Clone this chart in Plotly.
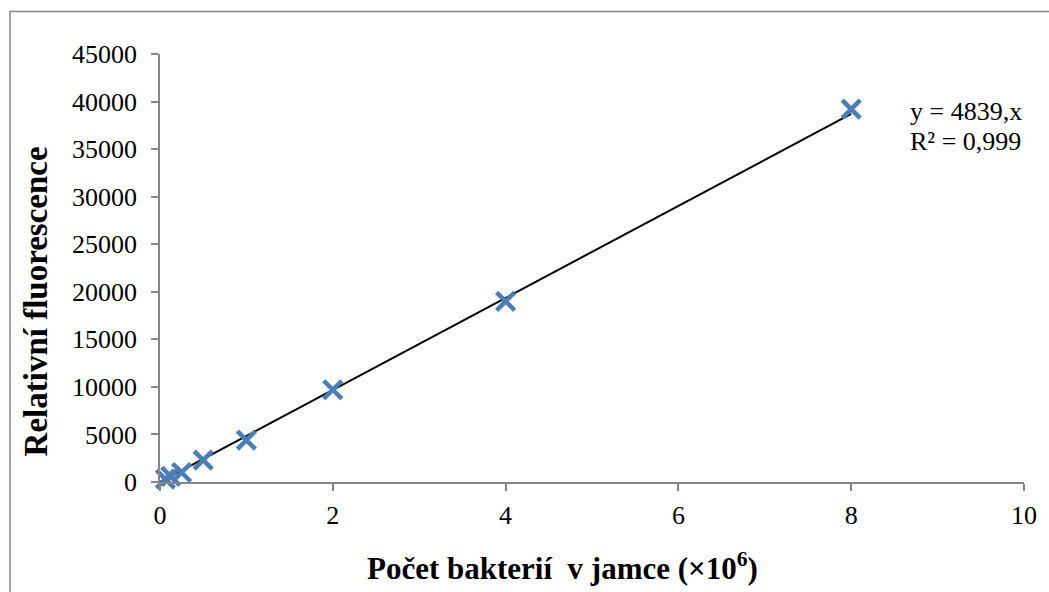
import plotly.graph_objects as go

# Data
bacteria_count = [0.0625, 0.125, 0.25, 0.5, 1, 2, 4, 8]          # x 10^6
fluorescence = [300, 600, 1000, 2300, 4400, 9700, 19000, 39200]   # relative units
trend_slope = 4839
trend_x = [0, 8]
trend_y = [trend_slope * v for v in trend_x]
x_ticks = [0, 2, 4, 6, 8, 10]
y_ticks = [0, 5000, 10000, 15000, 20000, 25000, 30000, 35000, 40000, 45000]
y_tick_labels = [str(v) for v in y_ticks]
eq_line1 = "y = 4839,x"
eq_line2 = "R² = 0,999"
x_title = "Počet bakterií  v jamce (×10<sup>6</sup>)"
y_title = "Relativní fluorescence"

W, H = 1049, 592
L, R, T, B = 160, 22, 54, 110
pw, ph = W - L - R, H - T - B

def px(xp):
    return (xp - L) / pw

def py(yp):
    return (H - B - yp) / ph

FONT = "Liberation Serif"
AX = "#868686"

fig = go.Figure()
fig.add_trace(go.Scatter(
    x=trend_x, y=trend_y, mode="lines",
    line=dict(color="black", width=2), showlegend=False, hoverinfo="skip"))
fig.add_trace(go.Scatter(
    x=bacteria_count, y=fluorescence, mode="markers",
    marker=dict(symbol="x-thin", size=18, line=dict(color="#4A7EBB", width=4.5)),
    showlegend=False, cliponaxis=False))

fig.update_layout(
    width=W, height=H,
    margin=dict(l=L, r=R, t=T, b=B),
    paper_bgcolor="white", plot_bgcolor="white",
    font=dict(family=FONT, size=26, color="black"),
    xaxis=dict(range=[0, 10], tickvals=x_ticks, ticktext=[str(v) for v in x_ticks],
               showgrid=False, zeroline=False,
               showline=True, linecolor=AX, linewidth=1.5,
               ticks="outside", ticklen=7, tickcolor=AX, tickwidth=1.5,
               ticklabelstandoff=2,
               tickfont=dict(family=FONT, size=26)),
    yaxis=dict(range=[0, 45000], tickvals=y_ticks, ticktext=y_tick_labels,
               showgrid=False, zeroline=False,
               showline=True, linecolor=AX, linewidth=1.5,
               ticks="outside", ticklen=7, tickcolor=AX, tickwidth=1.5,
               ticklabelstandoff=9,
               tickfont=dict(family=FONT, size=26)),
    shapes=[dict(type="rect", xref="paper", yref="paper",
                 x0=px(9.5), x1=px(1060), y0=py(600), y1=py(11.5),
                 line=dict(color=AX, width=1.5), fillcolor="rgba(0,0,0,0)")],
    annotations=[
        dict(text=eq_line1, xref="paper", yref="paper", x=px(911), y=py(111),
             xanchor="left", yanchor="middle", align="left", showarrow=False,
             font=dict(family=FONT, size=26)),
        dict(text=eq_line2, xref="paper", yref="paper", x=px(911), y=py(141),
             xanchor="left", yanchor="middle", align="left", showarrow=False,
             font=dict(family=FONT, size=26)),
        dict(text="<b>" + x_title + "</b>", xref="paper", yref="paper",
             x=px(564), y=py(566), xanchor="center", yanchor="middle",
             showarrow=False, font=dict(family=FONT, size=31)),
        dict(text="<b>" + y_title + "</b>", xref="paper", yref="paper",
             x=px(36), y=py(301), xanchor="center", yanchor="middle",
             textangle=-90, showarrow=False, font=dict(family=FONT, size=33)),
    ],
)

fig.write_html("out.html")
